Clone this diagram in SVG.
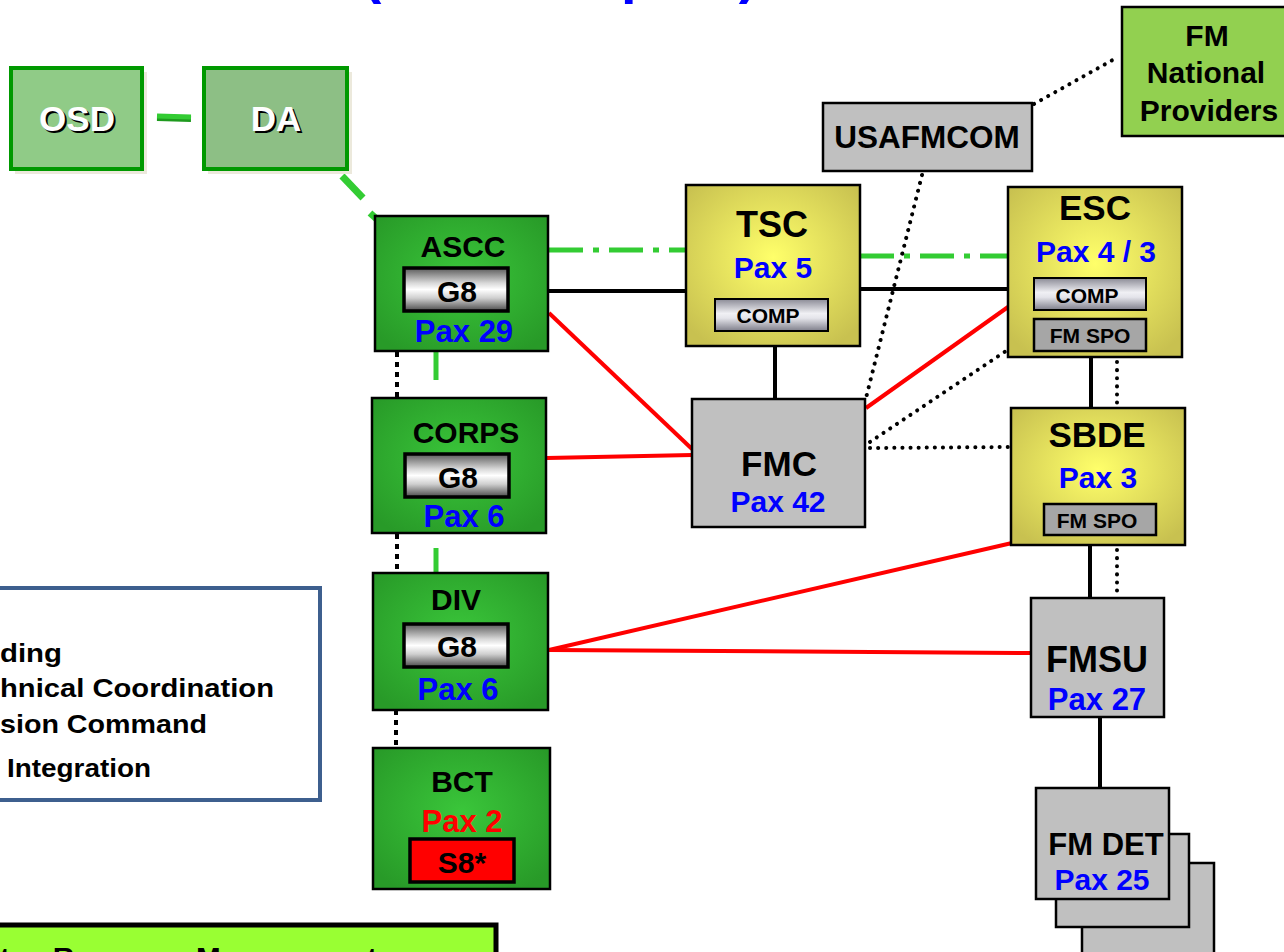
<svg xmlns="http://www.w3.org/2000/svg" width="1284" height="952" viewBox="0 0 1284 952">
<defs>
<radialGradient id="gGreen" cx="50%" cy="45%" r="65%">
<stop offset="0" stop-color="#3AC63A"/><stop offset="1" stop-color="#289A28"/>
</radialGradient>
<radialGradient id="gYellow" cx="50%" cy="45%" r="65%">
<stop offset="0" stop-color="#FFFF6A"/><stop offset="1" stop-color="#C8C150"/>
</radialGradient>
<linearGradient id="gMetal" x1="0" y1="0" x2="0" y2="1">
<stop offset="0" stop-color="#5A5A5A"/><stop offset="0.35" stop-color="#D8D8D8"/><stop offset="0.5" stop-color="#FFFFFF"/><stop offset="0.7" stop-color="#CFCFCF"/><stop offset="1" stop-color="#4A4A4A"/>
</linearGradient>
<linearGradient id="gComp" x1="0" y1="0" x2="0" y2="1">
<stop offset="0" stop-color="#8A8A95"/><stop offset="0.45" stop-color="#F0F0F4"/><stop offset="0.6" stop-color="#E4E4EA"/><stop offset="1" stop-color="#7E7E8A"/>
</linearGradient>
</defs>
<style>
text{font-family:"Liberation Sans",Arial,sans-serif;font-weight:bold;text-anchor:middle}
.bk{fill:#000}
.bl{fill:#0000FF}
.rd{fill:#FF0000}
.lt{fill:#000;font-size:26px;text-anchor:start}
.gbox{fill:url(#gGreen);stroke:#000;stroke-width:2.5}
.ybox{fill:url(#gYellow);stroke:#000;stroke-width:2.5}
.grey{fill:#C0C0C0;stroke:#000;stroke-width:2.5}
.metal{fill:url(#gMetal);stroke:#000;stroke-width:3.5}
.comp{fill:url(#gComp);stroke:#000;stroke-width:2}
.spo{fill:#A6A6A6;stroke:#000;stroke-width:2.5}
.solid{stroke:#000;stroke-width:4;fill:none}
.red{stroke:#FF0000;stroke-width:4;fill:none}
.dot{stroke:#000;stroke-width:4;stroke-dasharray:0.1 8;stroke-linecap:round;fill:none}
.sqdot{stroke:#000;stroke-width:4;stroke-dasharray:5 5;fill:none}
.gdash{stroke:#33CC33;stroke-width:5;fill:none}
.topbox{stroke:#009900;stroke-width:4}
.wt{fill:#FFFFFF;font-size:35px}
.sh{fill:#000;font-size:35px}
</style>
<rect width="1284" height="952" fill="#FFFFFF"/>
<g id="title">
<text x="372" y="-8" class="bl" style="font-size:56px">(</text>
<text x="638" y="-8" class="bl" style="font-size:56px">p</text>
<text x="748" y="-8" class="bl" style="font-size:56px">)</text>
</g>
<g id="connectors">
<line x1="157" y1="118" x2="191" y2="119" stroke="#1E9A1E" stroke-width="6"/>
<line x1="157" y1="116" x2="191" y2="117" stroke="#33CC33" stroke-width="5"/>
<line x1="342" y1="176" x2="363" y2="198" stroke="#33CC33" stroke-width="7"/>
<line x1="370" y1="213" x2="380" y2="222" stroke="#33CC33" stroke-width="7"/>
<line x1="549" y1="250" x2="686" y2="250" class="gdash" stroke-dasharray="34 10 6 10"/>
<line x1="860" y1="256" x2="1008" y2="256" class="gdash" stroke-dasharray="34 10 6 10"/>
<line x1="436" y1="352" x2="436" y2="380" class="gdash"/>
<line x1="436" y1="548" x2="436" y2="572" class="gdash"/>
<line x1="397" y1="352" x2="397" y2="398" class="sqdot"/>
<line x1="397" y1="534" x2="397" y2="573" class="sqdot"/>
<line x1="396" y1="710" x2="396" y2="748" class="sqdot"/>
<line x1="549" y1="291" x2="686" y2="291" class="solid"/>
<line x1="860" y1="289" x2="1008" y2="289" class="solid"/>
<line x1="775" y1="347" x2="775" y2="399" class="solid"/>
<line x1="1091" y1="357" x2="1091" y2="408" class="solid"/>
<line x1="1090" y1="545" x2="1090" y2="598" class="solid"/>
<line x1="1100" y1="717" x2="1100" y2="788" class="solid"/>
<line x1="1117" y1="362" x2="1117" y2="406" class="dot"/>
<line x1="1117" y1="550" x2="1117" y2="596" class="dot"/>
<line x1="1034" y1="104" x2="1118" y2="57" class="dot"/>
<line x1="922" y1="175" x2="866" y2="398" class="dot"/>
<line x1="870" y1="442" x2="1006" y2="351" class="dot"/>
<line x1="870" y1="448" x2="1010" y2="447" class="dot"/>
<line x1="549" y1="313" x2="692" y2="449" class="red"/>
<line x1="547" y1="458" x2="692" y2="455" class="red"/>
<line x1="866" y1="408" x2="1008" y2="307" class="red"/>
<line x1="1012" y1="543" x2="549" y2="650" class="red"/>
<line x1="549" y1="650" x2="1031" y2="653" class="red"/>
</g>
<g id="osd">
<rect x="15" y="72" width="132" height="102" fill="#ECE9DC"/>
<rect x="11" y="68" width="131" height="101" fill="#90CB87" class="topbox"/>
<text x="79" y="133" class="sh">OSD</text>
<text x="77" y="131" class="wt">OSD</text>
</g>
<g id="da">
<rect x="208" y="72" width="144" height="102" fill="#ECE9DC"/>
<rect x="204" y="68" width="143" height="101" fill="#8DBF85" class="topbox"/>
<text x="278" y="133" class="sh">DA</text>
<text x="276" y="131" class="wt">DA</text>
</g>
<g id="ascc">
<rect x="375" y="216" width="173" height="135" class="gbox"/>
<text x="463" y="257" class="bk" style="font-size:30px">ASCC</text>
<rect x="404" y="268" width="104" height="43" class="metal"/>
<text x="457" y="302" class="bk" style="font-size:30px">G8</text>
<text x="464" y="342" class="bl" style="font-size:31px">Pax 29</text>
</g>
<g id="corps">
<rect x="372" y="398" width="174" height="135" class="gbox"/>
<text x="466" y="443" class="bk" style="font-size:30px">CORPS</text>
<rect x="405" y="454" width="104" height="43" class="metal"/>
<text x="458" y="488" class="bk" style="font-size:30px">G8</text>
<text x="464" y="527" class="bl" style="font-size:31px">Pax 6</text>
</g>
<g id="div">
<rect x="373" y="573" width="175" height="137" class="gbox"/>
<text x="456" y="610" class="bk" style="font-size:30px">DIV</text>
<rect x="404" y="624" width="104" height="43" class="metal"/>
<text x="457" y="657" class="bk" style="font-size:30px">G8</text>
<text x="458" y="700" class="bl" style="font-size:31px">Pax 6</text>
</g>
<g id="bct">
<rect x="373" y="748" width="177" height="141" class="gbox"/>
<text x="462" y="792" class="bk" style="font-size:30px">BCT</text>
<text x="462" y="832" class="rd" style="font-size:31px">Pax 2</text>
<rect x="410" y="839" width="104" height="43" fill="#FF0000" stroke="#000" stroke-width="3.5"/>
<text x="462" y="873" class="bk" style="font-size:30px">S8*</text>
</g>
<g id="tsc">
<rect x="686" y="185" width="174" height="161" class="ybox"/>
<text x="772" y="237" class="bk" style="font-size:36px">TSC</text>
<text x="773" y="278" class="bl" style="font-size:30px">Pax 5</text>
<rect x="715" y="299" width="113" height="32" class="comp"/>
<text x="768" y="323" class="bk" style="font-size:21px">COMP</text>
</g>
<g id="esc">
<rect x="1008" y="187" width="174" height="170" class="ybox"/>
<text x="1095" y="220" class="bk" style="font-size:35px">ESC</text>
<text x="1096" y="262" class="bl" style="font-size:30px">Pax 4 / 3</text>
<rect x="1034" y="278" width="112" height="32" class="comp"/>
<text x="1087" y="303" class="bk" style="font-size:21px">COMP</text>
<rect x="1034" y="319" width="112" height="32" class="spo"/>
<text x="1090" y="343" class="bk" style="font-size:21px">FM SPO</text>
</g>
<g id="usafmcom">
<rect x="823" y="103" width="209" height="68" class="grey"/>
<text x="927" y="148" class="bk" style="font-size:31.5px">USAFMCOM</text>
</g>
<g id="fm-national-providers">
<rect x="1122" y="7" width="170" height="129" fill="#92D050" stroke="#000" stroke-width="2.5"/>
<text x="1207" y="46" class="bk" style="font-size:30px">FM</text>
<text x="1206" y="83" class="bk" style="font-size:30px">National</text>
<text x="1209" y="121" class="bk" style="font-size:30px">Providers</text>
</g>
<g id="fmc">
<rect x="692" y="399" width="173" height="128" class="grey"/>
<text x="779" y="476" class="bk" style="font-size:35px">FMC</text>
<text x="778" y="512" class="bl" style="font-size:30px">Pax 42</text>
</g>
<g id="sbde">
<rect x="1011" y="408" width="174" height="137" class="ybox"/>
<text x="1097" y="447" class="bk" style="font-size:35px">SBDE</text>
<text x="1098" y="488" class="bl" style="font-size:30px">Pax 3</text>
<rect x="1044" y="504" width="112" height="31" class="spo"/>
<text x="1097" y="528" class="bk" style="font-size:21px">FM SPO</text>
</g>
<g id="fmsu">
<rect x="1031" y="598" width="133" height="119" class="grey"/>
<text x="1097" y="672" class="bk" style="font-size:36px">FMSU</text>
<text x="1097" y="710" class="bl" style="font-size:31px">Pax 27</text>
</g>
<g id="fm-det">
<rect x="1082" y="863" width="132" height="100" class="grey"/>
<rect x="1056" y="834" width="133" height="93" class="grey"/>
<rect x="1036" y="788" width="133" height="111" class="grey"/>
<text x="1106" y="855" class="bk" style="font-size:31px">FM DET</text>
<text x="1102" y="890" class="bl" style="font-size:30px">Pax 25</text>
</g>
<g id="legend">
<rect x="-10" y="588" width="330" height="212" fill="#FFFFFF" stroke="#3D5F8E" stroke-width="4"/>
<text x="0" y="662" class="lt" textLength="62" lengthAdjust="spacingAndGlyphs">ding</text>
<text x="0" y="697" class="lt" textLength="274" lengthAdjust="spacingAndGlyphs">hnical Coordination</text>
<text x="0" y="733" class="lt" textLength="207" lengthAdjust="spacingAndGlyphs">sion Command</text>
<text x="7" y="777" class="lt" textLength="144" lengthAdjust="spacingAndGlyphs">Integration</text>
</g>
<g id="bottom-box">
<rect x="-10" y="925" width="506" height="60" fill="#99FF33" stroke="#000" stroke-width="5"/>
<text x="0" y="966" class="lt" style="font-size:25px" textLength="377" lengthAdjust="spacingAndGlyphs">ter, Resource Management</text>
</g>
</svg>
